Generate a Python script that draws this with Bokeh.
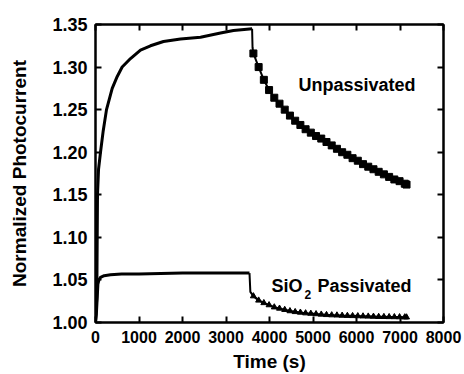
from bokeh.plotting import figure
from bokeh.models import Range1d, LinearAxis, FixedTicker, PrintfTickFormatter, Label
from bokeh.embed import file_html
from bokeh.resources import INLINE

# ---------------- data ----------------
# Unpassivated: light on (rise + plateau)
unp_on_t = [0, 30, 46, 70, 115, 177, 253, 384, 500, 613, 805, 1034, 1264, 1563,
            1954, 2414, 2874, 3172, 3600]
unp_on_v = [1.000, 1.030, 1.150, 1.180, 1.200, 1.225, 1.250, 1.275, 1.289, 1.300,
            1.310, 1.320, 1.325, 1.330, 1.333, 1.335, 1.340, 1.343, 1.345]
# Unpassivated: light off (decay, square markers)
unp_off_t = [3600, 3610, 3630, 3750, 3870, 3990, 4110, 4230, 4350, 4470, 4590, 4710,
             4830, 4950, 5070, 5190, 5310, 5430, 5550, 5670, 5790, 5910, 6030,
             6150, 6270, 6390, 6510, 6630, 6750, 6870, 6990, 7110, 7150]
unp_off_v = [1.345, 1.323, 1.316, 1.300, 1.285, 1.273, 1.264, 1.257, 1.250, 1.243,
             1.237, 1.232, 1.227, 1.223, 1.219, 1.216, 1.212, 1.208, 1.204, 1.200,
             1.197, 1.193, 1.190, 1.186, 1.183, 1.180, 1.177, 1.174, 1.171, 1.168,
             1.166, 1.163, 1.162]

# SiO2 passivated: light on
pas_on_t = [0, 20, 40, 55, 80, 115, 200, 345, 600, 1000, 2000, 3000, 3540]
pas_on_v = [1.000, 1.010, 1.030, 1.045, 1.050, 1.053, 1.055, 1.056, 1.057, 1.057,
            1.058, 1.058, 1.058]
# SiO2 passivated: light off (triangle markers)
pas_off_t = [3540, 3560, 3630, 3750, 3870, 3990, 4110, 4230, 4350, 4470, 4590, 4710,
             4830, 4950, 5070, 5190, 5310, 5430, 5550, 5670, 5790, 5910, 6030,
             6150, 6270, 6390, 6510, 6630, 6750, 6870, 6990, 7110, 7150]
pas_off_v = [1.058, 1.036, 1.031, 1.026, 1.023, 1.0205, 1.018, 1.0165, 1.015, 1.0135,
             1.0125, 1.0118, 1.011, 1.0105, 1.010, 1.0095, 1.009, 1.0087, 1.0085,
             1.0082, 1.008, 1.0078, 1.0076, 1.0074, 1.0072, 1.007, 1.0068, 1.0067,
             1.0066, 1.0065, 1.0064, 1.0063, 1.0062]

x_ticks = [0, 1000, 2000, 3000, 4000, 5000, 6000, 7000, 8000]
y_ticks = [1.00, 1.05, 1.10, 1.15, 1.20, 1.25, 1.30, 1.35]

x_label = "Time (s)"
y_label = "Normalized Photocurrent"

FONT = "Liberation Sans"

# ---------------- figure ----------------
p = figure(width=464, height=374, output_backend="svg", toolbar_location=None,
           x_range=Range1d(0, 8000), y_range=Range1d(1.0, 1.35),
           min_border_left=95, min_border_right=21, min_border_top=24,
           min_border_bottom=51, x_axis_label=x_label, y_axis_label=y_label)
p.background_fill_color = "white"
p.border_fill_color = "white"
p.grid.visible = False
p.outline_line_color = "black"
p.outline_line_width = 2

for ax in p.xaxis + p.yaxis:
    ax.axis_line_width = 2
    ax.axis_line_color = "black"
    ax.major_tick_line_width = 2
    ax.major_tick_in = 6
    ax.major_tick_out = 0
    ax.minor_tick_line_color = None
    ax.major_label_text_font = FONT
    ax.major_label_text_font_style = "bold"
    ax.major_label_text_color = "black"
    ax.axis_label_text_font = FONT
    ax.axis_label_text_font_style = "bold"
    ax.axis_label_text_color = "black"

p.xaxis.ticker = FixedTicker(ticks=x_ticks)
p.yaxis.ticker = FixedTicker(ticks=y_ticks)
p.yaxis.formatter = PrintfTickFormatter(format="%.2f")
p.xaxis.major_label_text_font_size = "16px"
p.yaxis.major_label_text_font_size = "18px"
p.xaxis.axis_label_text_font_size = "19px"
p.yaxis.axis_label_text_font_size = "19px"
p.xaxis.major_label_standoff = 8
p.xaxis.axis_label_standoff = 5
p.yaxis.major_label_standoff = 8
p.yaxis.axis_label_standoff = 19

# mirrored axes (ticks only, no labels)
top = LinearAxis(ticker=FixedTicker(ticks=x_ticks))
right = LinearAxis(ticker=FixedTicker(ticks=y_ticks))
for ax in (top, right):
    ax.axis_line_width = 2
    ax.major_tick_line_width = 2
    ax.major_tick_in = 6
    ax.major_tick_out = 0
    ax.minor_tick_line_color = None
    ax.major_label_text_font_size = "2px"
    ax.major_label_text_color = None
    ax.major_label_standoff = 0
p.add_layout(top, "above")
p.add_layout(right, "right")

# ---------------- curves ----------------
p.line(unp_on_t, unp_on_v, line_color="black", line_width=3)
p.line(unp_off_t, unp_off_v, line_color="black", line_width=2)
p.scatter(unp_off_t[2:], unp_off_v[2:], marker="square", size=7,
          fill_color="black", line_color="black")

p.line(pas_on_t, pas_on_v, line_color="black", line_width=3)
p.line(pas_off_t, pas_off_v, line_color="black", line_width=2)
p.scatter(pas_off_t[2:], pas_off_v[2:], marker="triangle", size=6,
          fill_color="black", line_color="black")

# ---------------- annotations ----------------
def lab(x, y, text, size="18px", align="left"):
    p.add_layout(Label(x=x, y=y, text=text, text_font=FONT, text_font_style="bold",
                       text_font_size=size, text_color="black",
                       text_baseline="alphabetic", text_align=align))

lab(4667, 1.2786, "Unpassivated")
lab(4046, 1.0433, "SiO")
lab(4805, 1.0328, "2", "12px")
lab(5103, 1.0433, "Passivated")

open("out.html", "w").write(file_html(p, INLINE))
